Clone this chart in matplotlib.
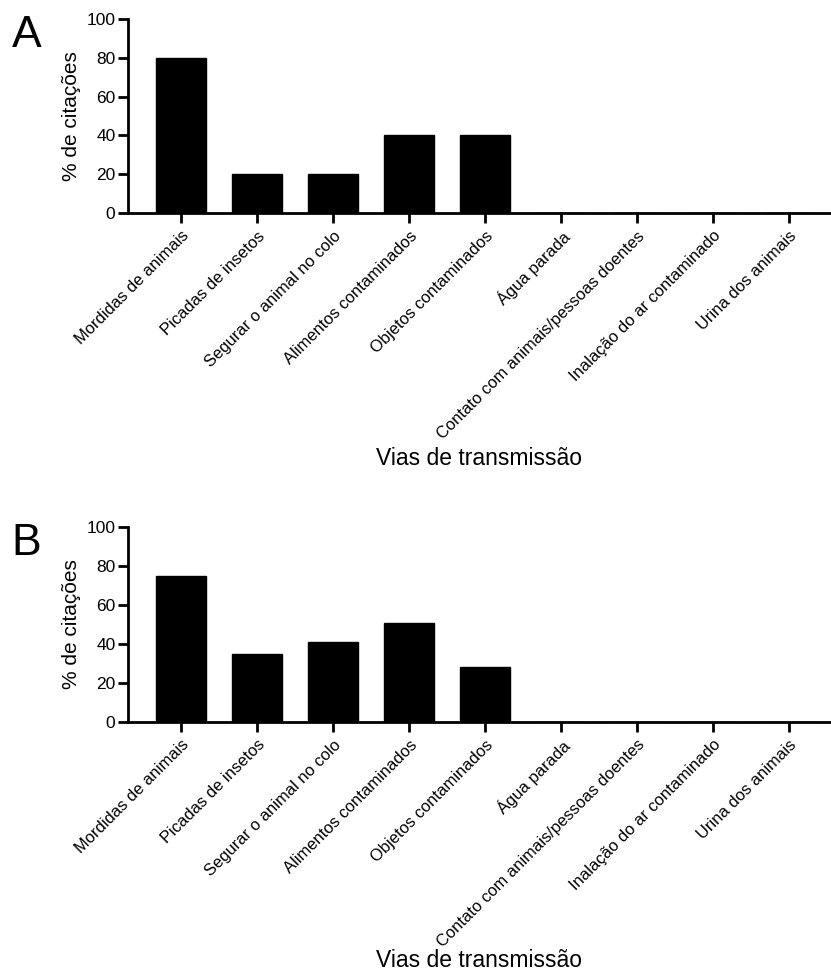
import matplotlib
matplotlib.use("Agg")
import matplotlib.pyplot as plt

categories = ["Mordidas de animais", "Picadas de insetos", "Segurar o animal no colo",
              "Alimentos contaminados", "Objetos contaminados", "Água parada",
              "Contato com animais/pessoas doentes", "Inalação do ar contaminado",
              "Urina dos animais"]
values_a = [80, 20, 20, 40, 40, 0, 0, 0, 0]
values_b = [75, 35, 41, 51, 28, 0, 0, 0, 0]
yticks = [0, 20, 40, 60, 80, 100]
panel_labels = ["A", "B"]

plt.rcParams['font.family'] = ["Liberation Sans", "DejaVu Sans"]

fig = plt.figure(figsize=(8.31, 9.75), dpi=100)
positions = [[0.154, 0.7815, 0.846, 0.199], [0.154, 0.2595, 0.846, 0.2]]
label_y = [0.964, 0.443]
xlabel_y = [-1.299, -1.256]

for pos, vals, pl, ly, xy in zip(positions, [values_a, values_b], panel_labels, label_y, xlabel_y):
    ax = fig.add_axes(pos)
    x = list(range(len(categories)))
    ax.bar(x, vals, width=0.66, color="black", edgecolor="black")
    ax.set_xlim(-0.7, 8.55)
    ax.set_ylim(0, 100)
    ax.set_yticks(yticks)
    ax.set_yticklabels([str(t) for t in yticks], fontsize=12.5)
    ax.set_xticks(x)
    ax.set_xticklabels(categories, rotation=45, ha="right", rotation_mode="anchor", fontsize=11.9)
    for s in ["top", "right"]:
        ax.spines[s].set_visible(False)
    for s in ["left", "bottom"]:
        ax.spines[s].set_linewidth(2)
    ax.tick_params(axis="both", direction="out", length=7, width=2)
    ax.tick_params(axis="x", pad=4)
    ax.tick_params(axis="y", pad=2)
    ax.set_ylabel("% de citações", fontsize=15, labelpad=4)
    ax.set_xlabel("Vias de transmissão", fontsize=16.5, va="baseline")
    ax.xaxis.set_label_coords(0.5, xy)
    fig.text(0.014, ly, pl, fontsize=32, ha="left", va="center")

fig.savefig("out.png", dpi=100)
